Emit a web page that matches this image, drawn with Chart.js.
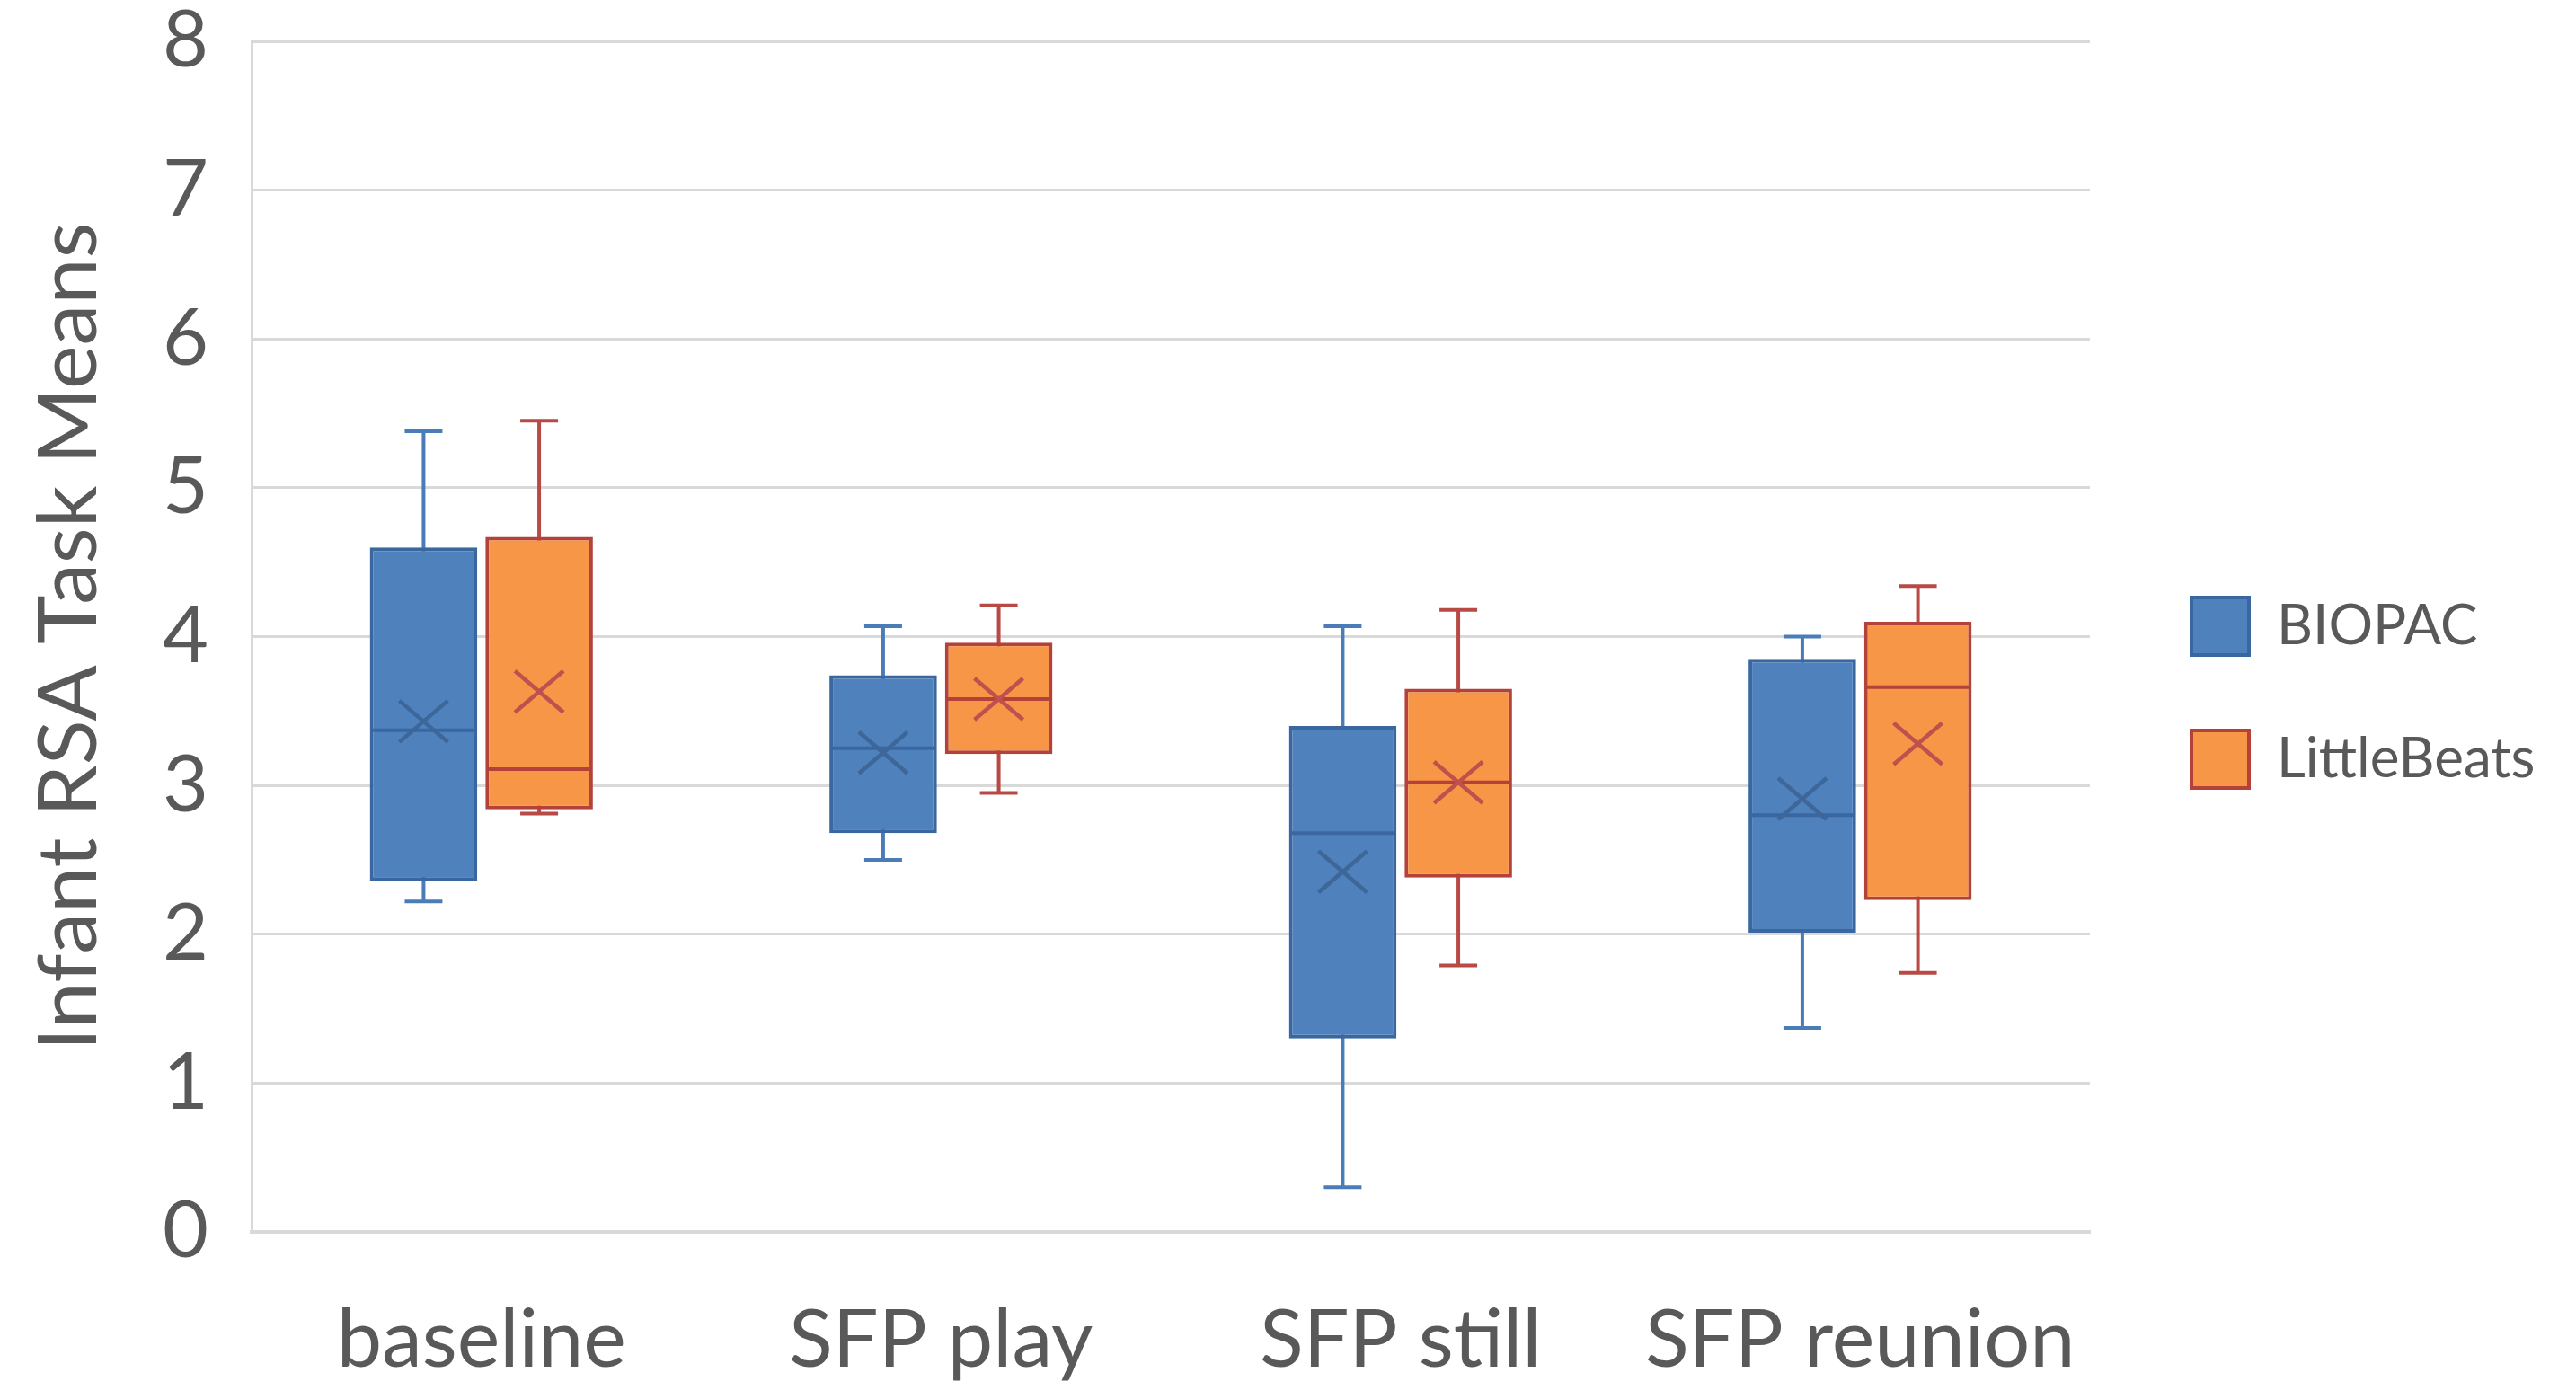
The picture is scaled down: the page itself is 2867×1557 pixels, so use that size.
<!DOCTYPE html>
<html>
<head>
<meta charset="utf-8">
<title>Infant RSA Task Means</title>
<script src="https://cdn.jsdelivr.net/npm/chart.js@4.4.1/dist/chart.umd.min.js"></script>
<style>
  html, body { margin: 0; padding: 0; background: #ffffff; overflow: hidden; }
  #wrap { width: 2867px; height: 1557px; }
  #rsaChart { display: block; }
</style>
</head>
<body>
<div id="wrap"><canvas id="rsaChart" width="2867" height="1557"></canvas></div>
<script>
// categories
const tasks = ["baseline", "SFP play", "SFP still", "SFP reunion"];

// BIOPAC five-number summary + mean
const biopacMin    = [2.22, 2.50, 0.30, 1.37];
const biopacQ1     = [2.36, 2.68, 1.30, 2.01];
const biopacMedian = [3.37, 3.25, 2.68, 2.80];
const biopacQ3     = [4.60, 3.74, 3.40, 3.85];
const biopacMax    = [5.38, 4.07, 4.07, 4.00];
const biopacMean   = [3.43, 3.22, 2.42, 2.91];

// LittleBeats five-number summary + mean
const beatsMin    = [2.81, 2.95, 1.79, 1.74];
const beatsQ1     = [2.84, 3.21, 2.38, 2.23];
const beatsMedian = [3.11, 3.58, 3.02, 3.66];
const beatsQ3     = [4.67, 3.96, 3.65, 4.10];
const beatsMax    = [5.45, 4.21, 4.18, 4.34];
const beatsMean   = [3.63, 3.58, 3.02, 3.28];

const FONT = "Lato, 'Open Sans', sans-serif";
const TEXT = "#595959";
const GRID = "#D9D9D9";

// whiskers, medians and mean markers around the floating bars
const boxWhiskers = {
  id: "boxWhiskers",
  beforeDatasetsDraw(chart) {
    eachBox(chart, (ctx, ds, bar, i, y) => {
      const cap = 21;
      ctx.strokeStyle = ds.whiskerColor;
      ctx.lineWidth = 4;
      ctx.beginPath();
      ctx.moveTo(bar.x, y.getPixelForValue(ds.whiskerMax[i]));
      ctx.lineTo(bar.x, y.getPixelForValue(ds.whiskerMin[i]));
      [ds.whiskerMax[i], ds.whiskerMin[i]].forEach(v => {
        const py = y.getPixelForValue(v);
        ctx.moveTo(bar.x - cap, py);
        ctx.lineTo(bar.x + cap, py);
      });
      ctx.stroke();
    });
  },
  afterDatasetsDraw(chart) {
    eachBox(chart, (ctx, ds, bar, i, y) => {
      const half = bar.width / 2 - 2;
      const my = y.getPixelForValue(ds.median[i]);
      ctx.strokeStyle = ds.borderColor;
      ctx.lineWidth = 4;
      ctx.beginPath();
      ctx.moveTo(bar.x - half, my);
      ctx.lineTo(bar.x + half, my);
      ctx.stroke();

      const ay = y.getPixelForValue(ds.mean[i]);
      ctx.strokeStyle = ds.meanColor;
      ctx.lineWidth = 4.5;
      ctx.beginPath();
      ctx.moveTo(bar.x - 27, ay - 23);
      ctx.lineTo(bar.x + 27, ay + 23);
      ctx.moveTo(bar.x + 27, ay - 23);
      ctx.lineTo(bar.x - 27, ay + 23);
      ctx.stroke();
    });
  }
};

function eachBox(chart, fn) {
  const y = chart.scales.y;
  const ctx = chart.ctx;
  ctx.save();
  ctx.lineCap = "butt";
  chart.data.datasets.forEach((ds, di) => {
    const meta = chart.getDatasetMeta(di);
    if (meta.hidden) return;
    meta.data.forEach((bar, i) => fn(ctx, ds, bar, i, y));
  });
  ctx.restore();
}

new Chart(document.getElementById("rsaChart"), {
  type: "bar",
  data: {
    labels: tasks,
    datasets: [
      {
        label: "BIOPAC",
        data: biopacQ1.map((v, i) => [v, biopacQ3[i]]),
        whiskerMin: biopacMin,
        whiskerMax: biopacMax,
        median: biopacMedian,
        mean: biopacMean,
        backgroundColor: "#4F81BD",
        borderColor: "#3A67A0",
        whiskerColor: "#4A7DB8",
        meanColor: "#3D6699",
        borderWidth: 4,
        borderSkipped: false,
        xAxisID: "x",
        yAxisID: "y",
      },
      {
        label: "LittleBeats",
        data: beatsQ1.map((v, i) => [v, beatsQ3[i]]),
        whiskerMin: beatsMin,
        whiskerMax: beatsMax,
        median: beatsMedian,
        mean: beatsMean,
        backgroundColor: "#F79646",
        borderColor: "#B5413B",
        whiskerColor: "#B84A45",
        meanColor: "#C0504D",
        borderWidth: 4,
        borderSkipped: false,
        xAxisID: "x",
        yAxisID: "y",
      },
    ],
  },
  options: {
    responsive: false,
    devicePixelRatio: 1,
    animation: false,
    categoryPercentage: 0.503,
    barPercentage: 0.93,
    layout: { padding: { top: 46, right: 41, bottom: 0, left: 0 } },
    plugins: {
      tooltip: { enabled: false },
      legend: {
        position: "right",
        fullSize: false,
        title: { display: true, text: "", padding: 0, font: { size: 10, lineHeight: "125px" } },
        labels: {
          boxWidth: 64,
          boxHeight: 64,
          padding: 84,
          color: TEXT,
          font: { family: FONT, size: 62 },
        },
      },
    },
    scales: {
      x: {
        grid: { display: false },
        border: { display: true, color: GRID, width: 4 },
        ticks: { color: TEXT, padding: 59, font: { family: FONT, size: 90 } },
        afterFit: scale => { scale.height = 186; },
      },
      y: {
        min: 0,
        max: 8,
        ticks: { stepSize: 1, color: TEXT, padding: 2, font: { family: FONT, size: 88, lineHeight: 1 } },
        grid: { color: GRID, lineWidth: 3, drawTicks: true, tickLength: 46, tickColor: "rgba(0,0,0,0)" },
        border: { display: true, color: GRID, width: 3 },
        title: {
          display: true,
          text: "Infant RSA Task Means",
          color: TEXT,
          padding: { top: 22, bottom: 0 },
          font: { family: FONT, size: 92, lineHeight: 1.2 },
        },
        afterFit: scale => { scale.width = 280; },
      },
      // empty spacer between plot and legend
      pad: {
        type: "linear",
        position: "right",
        grid: { display: false },
        border: { display: false },
        ticks: { display: false },
        afterFit: scale => { scale.width = 29; },
      },
    },
  },
  plugins: [boxWhiskers],
});
</script>
</body>
</html>
